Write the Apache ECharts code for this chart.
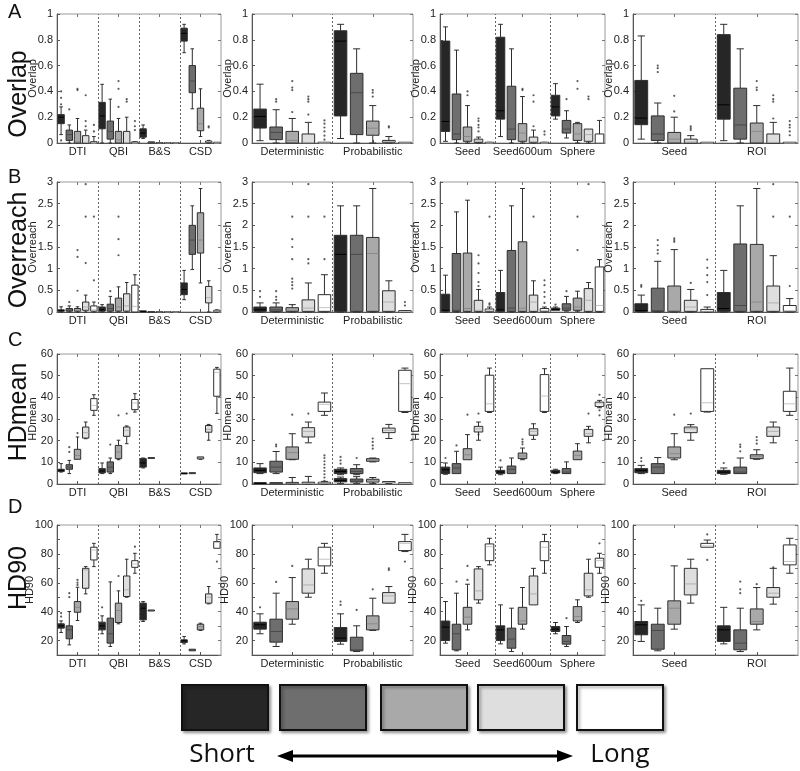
<!DOCTYPE html>
<html><head><meta charset="utf-8">
<script src="https://cdn.jsdelivr.net/npm/echarts@6/dist/echarts.min.js"></script>
<style>html,body{margin:0;padding:0;background:#fff}#c{width:800px;height:771px}</style>
</head><body><div id="c"></div>
<script>
// ---------- categories ----------
const groupsMethod = ['DTI', 'QBI', 'B&S', 'CSD'];
const groupsAlgo = ['Deterministic', 'Probabilistic'];
const groupsSeedType = ['Seed', 'Seed600um', 'Sphere'];
const groupsStrategy = ['Seed', 'ROI'];
const legendLabels = ['Short', 'Long'];
const rowLetters = ['A', 'B', 'C', 'D'];
const metricNames = ['Overlap', 'Overreach', 'HDmean', 'HD90'];

// ---------- y-axis ticks ----------
const overlapTicks = [0, 1, 0.2];
const overreachTicks = [0, 3, 0.5];
const hdmeanTicks = [0, 60, 10];
const hd90Ticks = [10, 100, 10];
const hd90Labels = [20, 40, 60, 80, 100];

// box stats: [lowerWhisker, Q1, median, Q3, upperWhisker]; outliers: [boxIndex, value]
// ---------- Overlap ----------
const overlapMethodBox = [
  [0.065,0.15,0.20,0.22,0.28],[0,0.02,0.065,0.10,0.14],[0,0,0.01,0.09,0.19],[0,0,0.005,0.057,0.10],[0,0,0,0.01,0.05],
  [0,0.11,0.21,0.315,0.455],[0,0.03,0.09,0.17,0.34],[0,0,0.025,0.09,0.19],[0,0,0.002,0.09,0.20],[0,0,0,0.005,0.01],
  [0.035,0.045,0.077,0.11,0.14],[0,0,0.002,0.005,0.006],[0,0,0,0,0],[0,0,0,0,0],[0,0,0,0,0],
  [0.70,0.79,0.85,0.89,0.92],[0.265,0.39,0.48,0.60,0.73],[0.05,0.095,0.15,0.27,0.42],[0,0.005,0.01,0.015,0.02],[0,0,0,0.002,0.003]
];
const overlapMethodOut = [[1,0.40],[1,0.35],[1,0.30],[1,0.02],[2,0.26],[3,0.42],[3,0.41],[4,0.37],[4,0.17],[4,0.13],[5,0.14],[5,0.09],
  [8,0.48],[8,0.42],[8,0.28],[9,0.34],[9,0.32],[10,0.17],[10,0.13],[10,0.10],[19,0.13],[19,0.12]];
const overlapAlgoBox = [
  [0.018,0.116,0.206,0.263,0.456],[0,0.026,0.082,0.124,0.258],[0,0,0.02,0.09,0.19],[0,0,0.002,0.07,0.16],[0,0,0,0.002,0.004],
  [0.035,0.21,0.79,0.87,0.92],[0,0.065,0.39,0.54,0.73],[0,0.06,0.115,0.17,0.29],[0,0.005,0.01,0.02,0.05],[0,0,0,0.002,0.004]
];
const overlapAlgoOut = [[2,0.34],[2,0.32],[3,0.48],[3,0.43],[3,0.41],[3,0.24],[4,0.36],[4,0.34],[4,0.32],[4,0.22],
  [5,0.175],[5,0.15],[5,0.12],[5,0.09],[5,0.057],[5,0.026],[8,0.41],[8,0.39],[8,0.36],[9,0.13],[9,0.12]];
const overlapSeedTypeBox = [
  [0.013,0.09,0.167,0.79,0.90],[0,0.026,0.07,0.38,0.72],[0,0.013,0.05,0.124,0.29],[0,0.005,0.015,0.03,0.046],[0,0,0,0.002,0.005],
  [0.05,0.185,0.25,0.82,0.92],[0,0.026,0.108,0.44,0.73],[0,0.013,0.077,0.15,0.36],[0,0.005,0.01,0.046,0.10],[0,0,0,0.002,0.005],
  [0.185,0.21,0.28,0.37,0.46],[0.039,0.077,0.108,0.175,0.25],[0,0.02,0.07,0.15,0.16],[0,0.013,0.065,0.108,0.11],[0,0,0.002,0.07,0.175]
];
const overlapSeedTypeOut = [[3,0.40],[3,0.37],[4,0.19],[4,0.17],[4,0.14],[4,0.12],[4,0.09],[8,0.42],[8,0.41],[9,0.37],[9,0.32],[9,0.13],
  [10,0.09],[10,0.065],[12,0.34],[13,0.48],[13,0.42],[14,0.36],[14,0.34]];
const overlapStrategyBox = [
  [0.03,0.142,0.193,0.485,0.83],[0,0.02,0.07,0.21,0.31],[0,0,0.03,0.082,0.20],[0,0,0.008,0.03,0.057],[0,0,0,0.002,0.004],
  [0.018,0.185,0.296,0.84,0.92],[0,0.03,0.14,0.425,0.73],[0,0,0.09,0.155,0.29],[0,0,0.005,0.07,0.16],[0,0,0,0.002,0.004]
];
const overlapStrategyOut = [[2,0.60],[2,0.58],[2,0.55],[3,0.366],[3,0.245],[4,0.13],[4,0.115],[4,0.10],[8,0.48],[8,0.43],[8,0.41],
  [9,0.37],[9,0.34],[9,0.32],[9,0.19],[10,0.17],[10,0.14],[10,0.12],[10,0.09],[10,0.06]];

// ---------- Overreach ----------
const overreachMethodBox = [
  [0,0.02,0.03,0.05,0.12],[0,0.02,0.04,0.08,0.14],[0,0.02,0.04,0.08,0.12],[0,0.04,0.115,0.23,0.39],[0,0.02,0.05,0.14,0.23],
  [0,0.02,0.05,0.115,0.17],[0,0.02,0.08,0.18,0.36],[0,0.02,0.115,0.32,0.58],[0,0.02,0.14,0.42,0.68],[0,0,0.13,0.62,0.86],
  [0,0.005,0.01,0.015,0.02],[0,0,0,0,0],[0,0,0,0,0],[0,0,0,0,0],[0,0,0,0,0],
  [0.285,0.40,0.52,0.67,0.96],[0.98,1.33,1.66,2.0,2.45],[0.67,1.36,1.66,2.29,2.85],[0,0.21,0.33,0.59,0.72],[0,0.01,0.02,0.04,0.05]
];
const overreachMethodOut = [[2,0.23],[3,1.43],[3,1.27],[3,0.49],[4,2.95],[4,2.2],[4,1.13],[5,2.2],[5,0.73],[7,0.48],[8,2.2],[8,1.68],[8,1.31]];
const overreachAlgoBox = [
  [0,0.015,0.05,0.115,0.21],[0,0.015,0.05,0.115,0.21],[0,0.015,0.04,0.10,0.17],[0,0.015,0.09,0.28,0.67],[0,0.015,0.1,0.40,0.86],
  [0,0.015,1.33,1.77,2.45],[0,0.015,1.33,1.77,2.45],[0,0.015,1.35,1.72,2.85],[0,0.015,0.23,0.49,0.72],[0,0.005,0.01,0.02,0.03]
];
const overreachAlgoOut = [[1,0.48],[1,0.35],[2,0.48],[2,0.35],[2,0.28],[3,2.2],[3,1.68],[3,1.5],[3,1.22],[3,0.77],[3,0.69],[3,0.62],[3,0.54],
  [4,2.95],[4,2.2],[4,1.22],[4,1.12],[5,2.2],[5,1.22],[10,0.23],[10,0.15]];
const overreachSeedTypeBox = [
  [0,0.015,0.04,0.41,0.85],[0,0.015,0.04,1.35,2.31],[0,0.015,0.08,1.36,2.58],[0,0.015,0.04,0.27,0.52],[0,0.015,0.03,0.07,0.115],
  [0,0.015,0.05,0.45,0.96],[0,0.015,0.09,1.42,2.45],[0,0.015,0.09,1.62,2.85],[0,0.015,0.23,0.39,0.72],[0,0.015,0.03,0.08,0.115],
  [0.04,0.04,0.06,0.09,0.115],[0.02,0.04,0.09,0.19,0.36],[0.02,0.04,0.115,0.32,0.48],[0,0.015,0.27,0.54,0.68],[0,0.015,0.15,1.04,1.21]
];
const overreachSeedTypeOut = [[4,1.31],[4,1.12],[4,0.9],[4,0.69],[4,0.6],[5,2.2],[5,0.2],[5,0.17],[9,2.2],[10,0.73],[10,0.62],[10,0.46],
  [10,0.35],[10,0.21],[11,0.17],[12,0.48],[13,2.2],[13,1.43],[14,2.95]];
const overreachStrategyBox = [
  [0,0.015,0.03,0.19,0.39],[0,0.015,0.03,0.55,1.17],[0,0.015,0.03,0.60,1.44],[0,0.015,0.115,0.27,0.52],[0,0.01,0.02,0.06,0.115],
  [0,0.015,0.08,0.45,0.96],[0,0.015,0.15,1.57,2.45],[0,0.015,0.23,1.56,2.85],[0,0.015,0.21,0.60,1.30],[0,0.015,0.03,0.15,0.31]
];
const overreachStrategyOut = [[1,0.62],[1,0.58],[2,1.66],[2,1.54],[2,1.43],[2,1.35],[3,1.7],[3,1.66],[3,1.62],[4,0.67],
  [5,1.21],[5,1.02],[5,0.85],[5,0.69],[5,0.39],[9,2.95],[9,2.2],[10,2.2],[10,0.6]];

// ---------- HDmean ----------
const hdmeanMethodBox = [
  [5.5,5.8,6.3,6.8,9.4],[4.8,6.8,7.8,8.9,10.9],[11.4,11.4,13.2,16.0,21.7],[20.9,21.2,23.7,26.3,28.6],[31.7,34.0,36.3,39.4,41.2],
  [4.8,5.1,6.0,7.1,9.7],[4.8,5.5,7.8,10.2,12.0],[11.2,11.7,14.8,17.8,20.2],[18.6,22.0,24.8,26.3,26.8],[33.2,34.3,37.4,39.0,41.7],
  [7.4,7.8,9.7,11.7,12.0],[12,12,12,12,12],null,null,null,
  [4.7,4.8,4.8,4.9,4.9],[4.9,4.9,5.0,5.0,5.0],[11.4,11.6,12.0,12.5,12.6],[20.2,23.9,25.2,27.0,27.5],[32.6,40.5,51.5,53.0,53.8]
];
const hdmeanMethodOut = [[2,17],[2,14.8],[3,23.5],[7,18.2],[8,31.7],[9,32.5]];
const hdmeanAlgoBox = [
  [4.8,5.2,6.3,7.4,9.4],[4.8,5.5,7.8,10.5,15.0],[11.2,11.4,14.5,17.1,23.2],[19.0,21.7,24.3,26.0,28.6],[31.7,33.5,36.8,37.8,42.0],
  [4.3,4.8,5.8,6.8,7.4],[4.3,4.8,5.8,7.1,8.9],[10.2,10.5,11.1,11.7,12.0],[21.0,23.7,24.8,25.8,27.5],[33.0,33.5,46.3,52.5,53.5]
];
const hdmeanAlgoLowBox = [
  [0.1,0.2,0.3,0.4,0.5],[0.1,0.2,0.3,0.4,0.5],[0,0.2,0.3,0.5,3.0],[0,0.2,0.3,0.6,3.5],[0,0.2,0.4,0.8,1.2],
  [0.3,1.0,1.5,2.5,3.2],[0.3,0.9,1.4,2.3,3.4],[0.3,0.9,1.3,2.2,3.0],[0.3,0.5,0.7,0.9,1.0],[0.1,0.2,0.3,0.4,0.5]
];
const hdmeanAlgoOut = [[2,18.2],[2,17.4],[3,32],[4,32.5],[5,13.2],[5,12],[5,10.5],[5,9],[5,7.5],[5,6],[5,4.5],[5,3],[5,1.5],
  [6,12.5],[6,10.9],[6,9.4],[7,12],[8,21],[8,19.4],[8,17.8],[8,16.3]];
const hdmeanSeedTypeBox = [
  [4.5,4.8,6.6,7.8,9.7],[4.8,4.8,7.4,9.4,15.1],[11.2,11.2,13.5,16.3,22.8],[20.2,24.0,25.5,26.6,28.6],[33.0,33.5,37.0,50.2,53.5],
  [4.3,4.8,5.5,6.3,7.8],[4.8,4.8,6.8,8.3,12.0],[11.2,11.7,12.9,14.3,16.6],[20.6,22.5,24.3,25.5,27.8],[33.0,33.5,40.6,50.5,53.2],
  [4.8,5.1,5.5,6.3,6.8],[4.8,4.8,5.5,7.1,10.2],[11.2,11.2,13.2,15.2,18.6],[19.0,22.0,23.2,25.2,26.6],[35.2,35.8,37.0,37.8,38.6]
];
const hdmeanSeedTypeOut = [[1,12],[2,17.8],[3,32],[4,22.8],[4,32.5],[6,10.9],[8,20.6],[8,19.4],[8,18.3],[14,32.5],[15,41.2],[15,34],[15,31.7]];
const hdmeanStrategyBox = [
  [4.8,5.2,6.3,7.1,8.6],[4.8,4.8,7.8,9.4,12.2],[11.2,12.0,14.0,17.1,23.2],[20.2,23.7,25.5,26.3,27.4],[33.2,33.5,37.5,53.2,53.2],
  [4.5,4.8,5.5,6.3,7.4],[4.8,4.8,5.5,7.8,12.0],[11.4,11.7,12.8,13.5,15.8],[19.0,22.0,24.3,26.3,28.6],[31.7,33.5,37.0,42.8,53.5]
];
const hdmeanStrategyOut = [[1,12],[1,10.5],[3,32],[4,32.5],[6,9.7],[7,18.2],[7,17.1],[7,15.1],[8,21.7],[8,20.2],[8,18.6]];

// ---------- HD90 ----------
const hd90MethodBox = [
  [25.6,28.6,30.2,31.6,33.6],[17.0,21.2,27.4,30.2,40.1],[33.9,39.6,43.0,47.0,56.9],[52.3,56.2,68.9,70.0,71.2],[71.2,75.8,82.7,84.6,87.3],
  [24.7,27.4,30.2,32.7,37.1],[15.9,18.2,24.7,35.5,60.6],[31.6,32.5,40.8,45.9,54.4],[50.0,50.5,55.1,64.7,76.3],[66.6,70.7,73.0,75.3,80.4],
  [33.2,34.3,42.4,45.9,47.0],[40.8,40.8,40.8,40.8,40.8],null,null,null,
  [17.7,18.7,19.8,20.5,22.8],[12.7,12.9,13.4,14.0,14.0],[27.0,27.4,29.7,31.3,32.0],[45.4,45.9,50.0,52.3,57.4],[83.9,83.9,87.8,88.5,93.5]
];
const hd90MethodOut = [[1,39],[1,36.6],[2,52.8],[2,50],[3,62],[3,60.1],[3,58.5],[6,43],[8,64.7],[10,85],[20,74.7]];
const hd90AlgoBox = [
  [24.7,27.9,30.9,32.7,38.5],[15.9,18.9,26.3,34.8,52.8],[31.3,34.8,41.9,47.0,63.6],[50.0,52.8,58.5,69.6,76.3],[66.6,71.7,76.3,84.6,87.3],
  [17.5,19.4,21.7,29.0,38.5],[12.4,12.9,13.6,22.3,30.2],[27.0,27.4,31.6,37.1,49.3],[45.9,45.9,50.9,53.2,57.4],[81.6,82.3,87.3,88.5,93.5]
];
const hd90AlgoOut = [[1,43],[2,60.6],[3,71.7],[6,47],[6,44.7],[7,41.2],[8,55.5],[9,70],[9,68.9],[10,74.7]];
const hd90SeedTypeBox = [
  [18.2,20.0,29.3,33.5,47.0],[12.9,13.6,24.7,31.3,52.8],[27.4,31.3,36.2,43.0,59.0],[45.9,48.2,54.4,69.6,71.2],[72.4,75.3,85.0,86.9,90.8],
  [17.7,20.0,27.4,30.2,44.7],[12.4,14.7,21.0,28.6,42.4],[27.9,31.3,33.6,43.0,56.7],[44.7,44.7,52.3,64.7,70.0],[66.6,75.3,84.6,88.5,93.5],
  [24.7,26.3,27.9,29.7,32.5],[15.9,17.5,19.4,23.5,29.7],[32.5,33.6,36.6,43.5,48.2],[50.0,50.9,55.1,66.6,76.3],[66.6,70.7,75.3,77.0,80.4]
];
const hd90SeedTypeOut = [[2,60.8],[3,71.7],[3,62],[12,35.5],[15,87.3]];
const hd90StrategyBox = [
  [19.4,24.0,30.9,33.2,44.7],[12.9,14.0,27.0,31.3,42.4],[27.9,31.3,42.4,47.5,71.7],[45.9,51.6,59.2,70.0,76.3],[84.6,84.6,85.5,87.3,89.6],
  [17.7,19.4,27.4,30.2,43.0],[12.4,13.6,18.2,27.4,42.4],[27.4,31.3,33.2,41.9,56.7],[45.2,50.0,52.8,56.7,70.0],[66.6,72.4,74.7,86.2,90.8]
];
const hd90StrategyOut = [[1,47.5],[5,93.5],[5,75.8],[7,60.8],[7,55.5],[7,52.8],[8,59],[9,70.7]];

// ---------- styling (not data) ----------
const boxFills = ['#262626', '#6e6e6e', '#a9a9a9', '#dedede', '#ffffff'];
const medianColors = ['#000000', '#4a4a4a', '#8a8a8a', '#b0b0b0', '#c4c4c4'];
const colLayout = [{left:57,width:164},{left:252,width:161},{left:440,width:165},{left:633,width:165}];
const rowLayout = [{top:14,height:129},{top:182,height:130},{top:354,height:130},{top:525,height:130}];
const FONT = '"Liberation Sans", Arial, Helvetica, sans-serif';

const panelGroups = [groupsMethod, groupsAlgo, groupsSeedType, groupsStrategy];
const rowsDef = [
  {name: metricNames[0], ticks: overlapTicks, boxes: [overlapMethodBox, overlapAlgoBox, overlapSeedTypeBox, overlapStrategyBox],
   outs: [overlapMethodOut, overlapAlgoOut, overlapSeedTypeOut, overlapStrategyOut]},
  {name: metricNames[1], ticks: overreachTicks, boxes: [overreachMethodBox, overreachAlgoBox, overreachSeedTypeBox, overreachStrategyBox],
   outs: [overreachMethodOut, overreachAlgoOut, overreachSeedTypeOut, overreachStrategyOut]},
  {name: metricNames[2], ticks: hdmeanTicks, boxes: [hdmeanMethodBox, hdmeanAlgoBox, hdmeanSeedTypeBox, hdmeanStrategyBox],
   outs: [hdmeanMethodOut, hdmeanAlgoOut, hdmeanSeedTypeOut, hdmeanStrategyOut], extra: {1: hdmeanAlgoLowBox}},
  {name: metricNames[3], ticks: hd90Ticks, labels: hd90Labels, boxes: [hd90MethodBox, hd90AlgoBox, hd90SeedTypeBox, hd90StrategyBox],
   outs: [hd90MethodOut, hd90AlgoOut, hd90SeedTypeOut, hd90StrategyOut]}
];

function renderBox(params, api) {
  const x = api.value(0);
  const lo = api.value(1), q1 = api.value(2), md = api.value(3), q3 = api.value(4), hi = api.value(5);
  const ci = (Math.round(x) - 1) % 5;
  const w = api.size([1, 0])[0] * 0.78;
  const pLo = api.coord([x, lo]), pQ1 = api.coord([x, q1]), pMd = api.coord([x, md]), pQ3 = api.coord([x, q3]), pHi = api.coord([x, hi]);
  const cx = pMd[0];
  const cw = w * 0.28;
  const stroke = '#2e2e2e';
  let top = pQ3[1], h = pQ1[1] - pQ3[1];
  if (h < 1) { top -= 0.5; h = 1; }
  const ch = [];
  if (pHi[1] < pQ3[1] - 0.3) {
    ch.push({type:'line', shape:{x1:cx, y1:pHi[1], x2:cx, y2:pQ3[1]}, style:{stroke, lineWidth:1}});
    ch.push({type:'line', shape:{x1:cx-cw, y1:pHi[1], x2:cx+cw, y2:pHi[1]}, style:{stroke, lineWidth:1}});
  }
  if (pLo[1] > pQ1[1] + 0.3) {
    ch.push({type:'line', shape:{x1:cx, y1:pQ1[1], x2:cx, y2:pLo[1]}, style:{stroke, lineWidth:1}});
    ch.push({type:'line', shape:{x1:cx-cw, y1:pLo[1], x2:cx+cw, y2:pLo[1]}, style:{stroke, lineWidth:1}});
  }
  ch.push({type:'rect', shape:{x:cx-w/2, y:top, width:w, height:h}, style:{fill:boxFills[ci], stroke, lineWidth:1}});
  ch.push({type:'line', shape:{x1:cx-w/2+0.5, y1:pMd[1], x2:cx+w/2-0.5, y2:pMd[1]}, style:{stroke: medianColors[ci], lineWidth:1}});
  return {type:'group', children: ch};
}

const grid = [], xAxis = [], yAxis = [], series = [], graphic = [];
rowsDef.forEach((row, r) => {
  panelGroups.forEach((groups, c) => {
    const gi = grid.length;
    const n = groups.length * 5;
    grid.push({left: colLayout[c].left, top: rowLayout[r].top, width: colLayout[c].width, height: rowLayout[r].height,
      show: true, borderColor: '#9a9a9a', borderWidth: 1, backgroundColor: 'transparent'});
    // xAxis indices per grid: 3*gi (value, data), 3*gi+1 (bottom categories), 3*gi+2 (top ticks)
    xAxis.push({type:'value', gridIndex: gi, min: 0.5, max: n + 0.5, show: false});
    xAxis.push({type:'category', gridIndex: gi, data: groups, boundaryGap: true, position: 'bottom',
      axisLine: {show: true, lineStyle: {color: '#555'}},
      axisTick: {show: true, inside: true, alignWithLabel: true, interval: 0, length: 3, lineStyle: {color: '#555'}},
      axisLabel: {fontSize: 11, color: '#222', margin: 3, interval: 0, fontFamily: FONT},
      splitLine: {show: false}});
    xAxis.push({type:'category', gridIndex: gi, data: groups, boundaryGap: true, position: 'top',
      axisLine: {show: false},
      axisTick: {show: true, inside: true, alignWithLabel: true, interval: 0, length: 3, lineStyle: {color: '#777'}},
      axisLabel: {show: false}, splitLine: {show: false}});
    const t = row.ticks;
    const fmt = row.labels ? (v => row.labels.indexOf(v) >= 0 ? String(v) : '') : (v => String(v));
    // yAxis indices per grid: 2*gi (left, data), 2*gi+1 (right ticks)
    yAxis.push({type:'value', gridIndex: gi, min: t[0], max: t[1], interval: t[2], position: 'left',
      axisLine: {show: true, lineStyle: {color: '#555'}},
      axisTick: {show: true, inside: true, length: 3, lineStyle: {color: '#555'}},
      axisLabel: {fontSize: 11, color: '#222', margin: 4, fontFamily: FONT, showMaxLabel: true, formatter: fmt},
      splitLine: {show: false}});
    yAxis.push({type:'value', gridIndex: gi, min: t[0], max: t[1], interval: t[2], position: 'right',
      axisLine: {show: false},
      axisTick: {show: true, inside: true, length: 3, lineStyle: {color: '#777'}},
      axisLabel: {show: false}, splitLine: {show: false}});
    // small rotated y-axis title next to the tick labels
    graphic.push({type:'text', x: colLayout[c].left - (r === 3 ? 27 : 24), y: rowLayout[r].top + rowLayout[r].height / 2,
      rotation: Math.PI / 2, style: {text: row.name, font: '11px ' + FONT, fill: '#222', align: 'center', verticalAlign: 'middle'}});
    const xi = gi * 3, yi = gi * 2;
    const mk = (arr) => arr.map((s, i) => s ? [i + 1].concat(s) : null).filter(d => d);
    const dividers = groups.slice(1).map((g, k) => ({xAxis: (k + 1) * 5 + 0.5}));
    series.push({type:'custom', xAxisIndex: xi, yAxisIndex: yi, renderItem: renderBox, data: mk(row.boxes[c]),
      encode: {x: 0, y: [1,2,3,4,5]}, silent: true, z: 3, clip: false,
      markLine: {silent: true, symbol: ['none', 'none'], label: {show: false}, animation: false,
        lineStyle: {type: [2, 2], color: '#666', width: 1}, data: dividers}});
    if (row.extra && row.extra[c]) {
      series.push({type:'custom', xAxisIndex: xi, yAxisIndex: yi, renderItem: renderBox, data: mk(row.extra[c]),
        encode: {x: 0, y: [1,2,3,4,5]}, silent: true, z: 3, clip: false});
    }
    series.push({type:'scatter', xAxisIndex: xi, yAxisIndex: yi, data: row.outs[c], symbol: 'circle', symbolSize: 2.2,
      itemStyle: {color: '#333'}, silent: true, z: 4});
  });
});

// graphic: row letters, row titles, legend
const letterY = [12, 177, 340, 507];
const titleY = [94, 250, 412, 578];
rowLetters.forEach((L, i) => {
  graphic.push({type:'text', left: 8, top: letterY[i] - 10, style:{text: L, font: '20px ' + FONT, fill:'#111'}});
  graphic.push({type:'text', x: 19, y: titleY[i], rotation: Math.PI/2,
    style:{text: metricNames[i], font: '25px ' + FONT, fill:'#111', align:'center', verticalAlign:'middle'}});
});
const legX = [182, 280, 381, 478, 577];
legX.forEach((x, i) => {
  graphic.push({type:'rect', shape:{x: x, y: 685, width: 86, height: 45},
    style:{fill: boxFills[i], stroke:'#111', lineWidth: 2, shadowBlur: 3, shadowOffsetX: 2, shadowOffsetY: 2, shadowColor:'rgba(0,0,0,0.35)'}});
});
graphic.push({type:'text', x: 222, y: 755, style:{text: legendLabels[0], font: '26px "Open Sans", Lato, sans-serif', fill:'#111', align:'center', verticalAlign:'middle'}});
graphic.push({type:'text', x: 620, y: 755, style:{text: legendLabels[1], font: '26px "Open Sans", Lato, sans-serif', fill:'#111', align:'center', verticalAlign:'middle'}});
graphic.push({type:'line', shape:{x1: 290, y1: 756, x2: 560, y2: 756}, style:{stroke:'#000', lineWidth: 3}});
graphic.push({type:'polygon', shape:{points:[[277,756],[293,750],[293,762]]}, style:{fill:'#000'}});
graphic.push({type:'polygon', shape:{points:[[573,756],[557,750],[557,762]]}, style:{fill:'#000'}});

const chart = echarts.init(document.getElementById('c'), null, {renderer: 'canvas'});
chart.setOption({animation: false, backgroundColor: '#fff', textStyle: {fontFamily: FONT},
  grid, xAxis, yAxis, series, graphic});
</script></body></html>
